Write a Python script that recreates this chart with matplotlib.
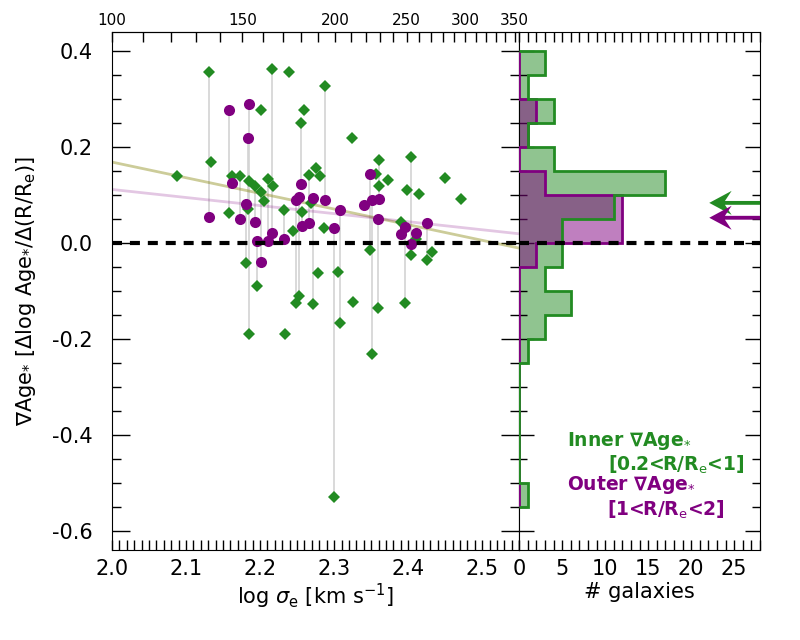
import numpy as np
import matplotlib.pyplot as plt
from matplotlib.ticker import MultipleLocator, FixedLocator, NullFormatter

plt.rcParams['axes.unicode_minus'] = False

# galaxies with inner and outer gradient (log sigma_e, inner, outer)
pair_logsig = [2.1305, 2.1574, 2.1857, 2.1840, 2.1624, 2.2555, 2.2719, 2.2880,
               2.1810, 2.1734, 2.1934, 2.2160, 2.1952, 2.2102, 2.2319, 2.2015,
               2.2560, 2.2665, 2.2480, 2.2522, 2.3078, 2.3001, 2.3482, 2.3510,
               2.3612, 2.3595, 2.3898, 2.3957, 2.4100, 2.4042, 2.4257, 2.3405]
pair_inner = [0.357, 0.062, -0.190, 0.071, 0.140, 0.251, -0.127, 0.328,
              -0.042, 0.141, 0.120, 0.362, -0.090, 0.133, 0.070, 0.107,
              0.064, 0.142, -0.124, -0.110, -0.167, -0.529, -0.015, -0.231,
              0.174, -0.135, 0.044, -0.124, 0.008, 0.179, -0.034, np.nan]
pair_outer = [0.054, 0.277, 0.290, 0.219, 0.126, 0.123, 0.095, 0.090,
              0.081, 0.050, 0.045, 0.022, 0.004, 0.005, 0.008, -0.039,
              0.036, 0.043, 0.089, 0.097, 0.069, 0.032, 0.144, 0.090,
              0.093, 0.050, 0.019, 0.033, 0.022, -0.001, 0.042, 0.079]

# galaxies with only inner gradient
solo_logsig = [2.2396, 2.2015, 2.2598, 2.1337, 2.0884, 2.1844, 2.2171, 2.2755,
               2.2813, 2.2055, 2.2687, 2.2440, 2.2867, 2.2786, 2.2337, 2.3240,
               2.3571, 2.3724, 2.3607, 2.4495, 2.3980, 2.4145, 2.4715, 2.4042,
               2.4325, 2.3059, 2.3257]
solo_inner = [0.356, 0.278, 0.278, 0.169, 0.141, 0.129, 0.119, 0.157,
              0.140, 0.088, 0.084, 0.026, 0.031, -0.062, -0.190, 0.219,
              0.144, 0.131, 0.120, 0.136, 0.110, 0.102, 0.093, -0.024,
              -0.019, -0.060, -0.122]

# linear fits (slope, intercept at log sigma = 2)
fit_inner = [-0.326, 0.169]
fit_outer = [-0.168, 0.112]

# histogram counts, bins of 0.05 from -0.55 to 0.40
bin_edges = np.round(np.arange(-0.55, 0.4001, 0.05), 2)
hist_inner = [1, 0, 0, 0, 0, 0, 1, 3, 6, 3, 5, 5, 11, 17, 4, 1, 4, 1, 3]
hist_outer = [0, 0, 0, 0, 0, 0, 0, 0, 0, 0, 2, 12, 12, 3, 0, 1, 2, 0, 0]

# median values (arrows)
med_inner = 0.084
med_outer = 0.053

green = 'forestgreen'
purple = 'purple'

fig = plt.figure(figsize=(8, 6.4), dpi=100)
ax = fig.add_axes([0.14, 0.14, 0.509, 0.81])
ax2 = fig.add_axes([0.649, 0.14, 0.301, 0.81])

pair_logsig = np.array(pair_logsig)
pair_inner = np.array(pair_inner)
pair_outer = np.array(pair_outer)
ok = np.isfinite(pair_inner)

ax.vlines(pair_logsig[ok], pair_inner[ok], pair_outer[ok], color='lightgrey', lw=1.2, zorder=1)

xx = np.array([2.0, 2.55])
ax.plot(xx, fit_inner[1] + fit_inner[0] * (xx - 2.0), color='olive', alpha=0.4, lw=2, zorder=2)
ax.plot(xx, fit_outer[1] + fit_outer[0] * (xx - 2.0), color='purple', alpha=0.22, lw=2, zorder=2)

ax.plot(solo_logsig, solo_inner, 'D', color=green, ms=6, mew=0, zorder=3)
ax.plot(pair_logsig[ok], pair_inner[ok], 'D', color=green, ms=6, mew=0, zorder=3)
ax.plot(pair_logsig, pair_outer, 'o', color=purple, ms=8, mew=0, zorder=4)

ax.axhline(0, color='k', lw=3, ls=(0, (2.4, 1.9)), zorder=5)

ax.set_xlim(2.0, 2.55)
ax.set_ylim(-0.64, 0.44)
ax.xaxis.set_major_locator(FixedLocator([2.0, 2.1, 2.2, 2.3, 2.4, 2.5]))
ax.xaxis.set_minor_locator(MultipleLocator(0.01))
ax.yaxis.set_major_locator(MultipleLocator(0.2))
ax.yaxis.set_minor_locator(MultipleLocator(0.05))
ax.tick_params(axis='y', which='major', direction='in', length=13, width=1, labelsize=15, right=True, pad=14)
ax.tick_params(axis='y', which='minor', direction='in', length=6.5, width=1, right=True)
ax.tick_params(axis='x', which='major', direction='in', length=7, width=1, labelsize=15, top=False, pad=6)
ax.tick_params(axis='x', which='minor', direction='in', length=7, width=1, top=False)
ax.set_xlabel(r'log $\sigma_{\rm e}$ [km s$^{-1}$]', fontsize=15, labelpad=2)
ax.set_ylabel(r'∇Age$_{*}$ [Δlog Age$_{*}$/Δ(R/R$_{\rm e}$)]', fontsize=15, labelpad=10)

sec = ax.secondary_xaxis('top', functions=(lambda x: 10 ** x, np.log10))
sec.xaxis.set_major_locator(FixedLocator([100, 150, 200, 250, 300, 350]))
sec.xaxis.set_minor_locator(FixedLocator(np.arange(100, 360, 10)))
sec.tick_params(which='both', direction='in', length=7, width=1, labelsize=11, pad=3)

# histograms
ax2.stairs(hist_inner, bin_edges, orientation='horizontal', fill=True,
           color=green, alpha=0.5, lw=0, zorder=1)
ax2.stairs(hist_outer, bin_edges, orientation='horizontal', fill=True,
           color=purple, alpha=0.5, lw=0, zorder=2)
ax2.stairs(hist_outer, bin_edges, orientation='horizontal', fill=False,
           color=purple, lw=2, zorder=3)
ax2.stairs(hist_inner, bin_edges, orientation='horizontal', fill=False,
           color=green, lw=2, zorder=4)

ax2.axhline(0, color='k', lw=3, ls=(0, (2.4, 1.9)), zorder=5)

for med, col in [(med_inner, green), (med_outer, purple)]:
    ax2.arrow(28.5, med, -6.4, 0, width=0.008, head_width=0.05, head_length=2.6,
              overhang=0.3, length_includes_head=True, color=col, lw=0, zorder=6)

ax2.set_xlim(0, 28)
ax2.set_ylim(-0.64, 0.44)
ax2.xaxis.set_major_locator(MultipleLocator(5))
ax2.xaxis.set_minor_locator(MultipleLocator(1))
ax2.yaxis.set_major_locator(MultipleLocator(0.2))
ax2.yaxis.set_minor_locator(MultipleLocator(0.05))
ax2.yaxis.set_major_formatter(NullFormatter())
ax2.tick_params(axis='y', which='major', direction='in', length=11, width=1, left=True, right=True)
ax2.tick_params(axis='y', which='minor', direction='in', length=5.5, width=1, left=True, right=True)
ax2.tick_params(axis='x', which='major', direction='in', length=7, width=1, labelsize=15, top=True, pad=6)
ax2.tick_params(axis='x', which='minor', direction='in', length=7, width=1, top=True)
ax2.set_xlabel('# galaxies', fontsize=15, labelpad=2)

ax2.text(5.6, -0.412, r'Inner ∇Age$_{*}$', color=green, fontsize=13.5, fontweight='bold', va='center')
ax2.text(26.2, -0.462, r'[0.2<R/R$_{\rm e}$<1]', color=green, fontsize=13.5, fontweight='bold', va='center', ha='right')
ax2.text(5.6, -0.504, r'Outer ∇Age$_{*}$', color=purple, fontsize=13.5, fontweight='bold', va='center')
ax2.text(23.8, -0.555, r'[1<R/R$_{\rm e}$<2]', color=purple, fontsize=13.5, fontweight='bold', va='center', ha='right')

fig.savefig('out.png', dpi=100)
